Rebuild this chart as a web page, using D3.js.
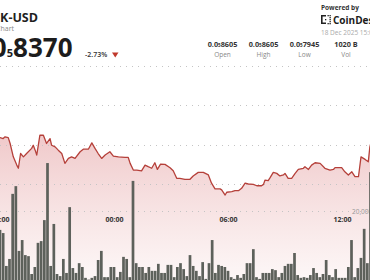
<!DOCTYPE html>
<meta charset="utf-8">
<script src="https://d3js.org/d3.v7.min.js"></script>
<style>
  body { margin: 0; background: #fff; overflow: hidden; }
  svg { display: block; font-family: "Open Sans", sans-serif; }
</style>
<body>
<div id="chart"></div>
<script>
// price in units of 0.0₅ (8370 means 0.000008370 USD), time in minutes after 17 Dec 18:00
var priceMinutes = [-9, 0, 10, 16, 26, 32, 42, 53, 58, 65, 74, 84, 100, 105, 111, 116, 126, 137, 147, 158,
  163, 174, 184, 195, 205, 216, 226, 237, 253, 263, 279, 290, 300, 310, 321, 332, 347, 358, 374, 384,
  395, 405, 411, 421, 432, 447, 458, 468, 479, 489, 497, 507, 521, 537, 547, 558, 568, 584, 600, 610,
  626, 642, 658, 668, 679, 695, 700, 711, 716, 732, 742, 753, 763, 774, 784, 800, 811, 826, 832, 837,
  847, 853, 863, 874, 884, 895, 900, 910, 921, 932, 942, 958, 963, 974, 984, 995, 1011, 1026, 1042, 1053,
  1058, 1079, 1089, 1100, 1111, 1121, 1132, 1140, 1153, 1163, 1168, 1178];
var priceValues = [8236, 8236, 8231, 8240, 8236, 8206, 8138, 8096, 8080, 8155, 8138, 8155, 8181, 8197, 8172, 8147, 8248, 8248, 8206, 8231,
  8197, 8189, 8172, 8155, 8105, 8130, 8138, 8130, 8164, 8177, 8177, 8209, 8181, 8155, 8130, 8147, 8164, 8142, 8138, 8137,
  8135, 8135, 8105, 8071, 8071, 8067, 8096, 8088, 8080, 8108, 8074, 8101, 8100, 8083, 8067, 8029, 8029, 8024, 8024, 8041,
  8059, 8059, 8046, 8004, 7975, 7975, 7970, 7944, 7958, 7961, 7966, 7966, 7978, 8004, 8000, 7998, 7991, 7991, 7998, 8020,
  8017, 8032, 8059, 8054, 8041, 8046, 8054, 8029, 8029, 8054, 8074, 8080, 8088, 8074, 8096, 8108, 8105, 8080, 8071, 8074,
  8083, 8083, 8062, 8046, 8062, 8037, 8037, 8138, 8125, 8113, 8189, 8248];

// volume per 10 minute bucket from 17 Dec 18:00
var volumeValues = [14600, 13700, 4300, 6300, 24900, 27100, 8600, 11700, 7400, 7100,
  2000, 4000, 10900, 11400, 17400, 33700, 4300, 16300, 2000, 1400,
  6300, 2300, 21100, 3700, 2300, 5100, 4000, 900, 400, 900,
  1400, 6000, 8600, 1100, 1100, 4000, 4000, 1100, 2600, 6900,
  6300, 1100, 28600, 5100, 4000, 4000, 2300, 4000, 2900, 2900,
  4900, 2300, 2300, 4600, 4600, 1100, 4000, 5100, 3400, 1400,
  7400, 4300, 2900, 1400, 5400, 600, 5100, 11700, 2300, 4600,
  4300, 4000, 2900, 1100, 600, 1700, 900, 2000, 5100, 5100,
  9100, 1100, 600, 2300, 2300, 2300, 3400, 3100, 1100, 2300,
  4300, 4900, 4900, 8000, 1700, 900, 1100, 900, 1700, 3700,
  2300, 1100, 2000, 6000, 1700, 1100, 3400, 900, 900, 900,
  4000, 11700, 1100, 3700, 6600, 14900, 5100, 31100];

var timeTickHours = [0, 6, 12, 18];
var priceGrid = [8000, 8200, 8400, 8600];
var volumeGrid = [20000];
var statLabels = ["Open", "High", "Low", "Vol"];
var statDigits = ["8605", "8605", "7945", null];
var statVolume = "1020 B";

var W = 370, H = 280;
var t0 = new Date(2025, 11, 17, 18, 0);
var minute = function(m) { return new Date(t0.getTime() + m * 60000); };

var svg = d3.select("#chart").append("svg")
  .attr("width", W).attr("height", H);

var x = d3.scaleTime()
  .domain([t0, new Date(2025, 11, 18, 12, 0)])
  .range([0, 342]);
var y = d3.scaleLinear().domain([8000, 8600]).range([184, 66]);
var v = d3.scaleLinear().domain([0, 20000]).range([281, 211]);

var defs = svg.append("defs");
var grad = defs.append("linearGradient")
  .attr("id", "fillGrad")
  .attr("gradientUnits", "userSpaceOnUse")
  .attr("x1", 0).attr("y1", 100).attr("x2", 0).attr("y2", 280);
grad.append("stop").attr("offset", 0).attr("stop-color", "#d9777a").attr("stop-opacity", 0.5);
grad.append("stop").attr("offset", 1).attr("stop-color", "#e39a9a").attr("stop-opacity", 0.08);

var data = priceMinutes.map(function(m, i) { return { t: minute(m), p: priceValues[i] }; });

svg.append("path")
  .datum(data)
  .attr("fill", "url(#fillGrad)")
  .attr("d", d3.area()
    .x(function(d) { return x(d.t); })
    .y0(H)
    .y1(function(d) { return y(d.p); }));

// dotted grid
svg.selectAll(".pgrid")
  .data(priceGrid)
  .enter().append("line")
    .attr("x1", 0).attr("x2", W)
    .attr("y1", function(d) { return Math.round(y(d)) + 0.5; })
    .attr("y2", function(d) { return Math.round(y(d)) + 0.5; })
    .attr("stroke", "#c4c4c4")
    .attr("stroke-dasharray", "1 5");
svg.selectAll(".vgrid")
  .data(volumeGrid)
  .enter().append("line")
    .attr("x1", 0).attr("x2", W)
    .attr("y1", function(d) { return Math.round(v(d)) + 0.5; })
    .attr("y2", function(d) { return Math.round(v(d)) + 0.5; })
    .attr("stroke", "#c4c4c4")
    .attr("stroke-dasharray", "1 5");
svg.selectAll(".vlab")
  .data(volumeGrid)
  .enter().append("text")
    .attr("x", 352).attr("y", function(d) { return v(d) + 2.5; })
    .style("font-size", "6.5px").style("fill", "#999")
    .text(d3.format(","));

svg.append("path")
  .datum(data)
  .attr("fill", "none")
  .attr("stroke", "#b5403a")
  .attr("stroke-width", 1.3)
  .attr("stroke-linejoin", "round")
  .attr("d", d3.line()
    .x(function(d) { return x(d.t); })
    .y(function(d) { return y(d.p); }));

// volume bars
var barW = 2.7;
svg.append("g")
  .selectAll("rect")
  .data(volumeValues)
  .enter().append("rect")
    .attr("x", function(d, i) { return x(minute(i * 10)) - barW / 2; })
    .attr("y", function(d) { return v(d); })
    .attr("width", barW)
    .attr("height", function(d) { return v(0) - v(d); })
    .attr("fill", "#5d615b");

// time axis
var axis = svg.append("g")
  .attr("transform", "translate(0,215)")
  .call(d3.axisBottom(x)
    .tickValues(timeTickHours.map(function(h) { return minute(h * 60); }))
    .tickFormat(d3.timeFormat("%H:%M"))
    .tickSize(0).tickPadding(2));
axis.select(".domain").remove();
axis.selectAll("text")
  .style("font-family", "Open Sans, sans-serif")
  .style("font-size", "7px").style("font-weight", 700).style("fill", "#333");

// header
svg.append("text").attr("x", 38).attr("y", 22).attr("text-anchor", "end")
  .style("font-size", "12.5px").style("font-weight", 700).style("fill", "#1f1f1f")
  .text("BONK-USD");
svg.append("text").attr("x", 14).attr("y", 31).attr("text-anchor", "end")
  .style("font-size", "7px").style("fill", "#888")
  .text("Chart");

var big = svg.append("text").attr("x", 72.5).attr("y", 57).attr("text-anchor", "end")
  .style("font-size", "26px").style("font-weight", 700).style("fill", "#1c1c1c");
big.append("tspan").text("0.0");
big.append("tspan").style("font-size", "11px").text("5");
big.append("tspan").text("8370");

svg.append("text").attr("x", 85).attr("y", 57)
  .style("font-size", "7px").style("font-weight", 600).style("fill", "#333")
  .text("-2.73%");
svg.append("path")
  .attr("d", "M112,52.5 L118.5,52.5 L115.25,57.5 Z")
  .attr("fill", "#c0392b");

svg.append("text").attr("x", 321).attr("y", 10)
  .style("font-size", "6.5px").style("font-weight", 700).style("fill", "#333")
  .text("Powered by");
var logo = svg.append("g").attr("fill", "#222");
logo.append("path").attr("d", "M321,15 h5 v1.6 h-3.4 v5.8 h3.4 v1.6 h-5 Z");
[[327.5, 15], [329.5, 15], [329.5, 17], [329.5, 19], [329.5, 21], [329.5, 23], [327.5, 23], [325, 19]]
  .forEach(function(p) { logo.append("rect").attr("x", p[0]).attr("y", p[1]).attr("width", 1.3).attr("height", 1.3); });
svg.append("text").attr("x", 333).attr("y", 24)
  .style("font-size", "10px").style("font-weight", 700).style("fill", "#1c1c1c")
  .text("CoinDesk");
svg.append("text").attr("x", 321).attr("y", 35)
  .style("font-size", "6.5px").style("fill", "#aaa")
  .text("18 Dec 2025 15:00 UTC");

var statX = [222.5, 263.5, 304.5, 346];
statLabels.forEach(function(lab, i) {
  var t = svg.append("text").attr("x", statX[i]).attr("y", 47).attr("text-anchor", "middle")
    .style("font-size", "7.3px").style("font-weight", 700).style("fill", "#333");
  if (statDigits[i]) {
    t.append("tspan").text("0.0");
    t.append("tspan").style("font-size", "4.5px").text("5");
    t.append("tspan").text(statDigits[i]);
  } else {
    t.text(statVolume);
  }
  svg.append("text").attr("x", statX[i]).attr("y", 56.5).attr("text-anchor", "middle")
    .style("font-size", "6.5px").style("fill", "#888")
    .text(lab);
});
</script>
</body>
